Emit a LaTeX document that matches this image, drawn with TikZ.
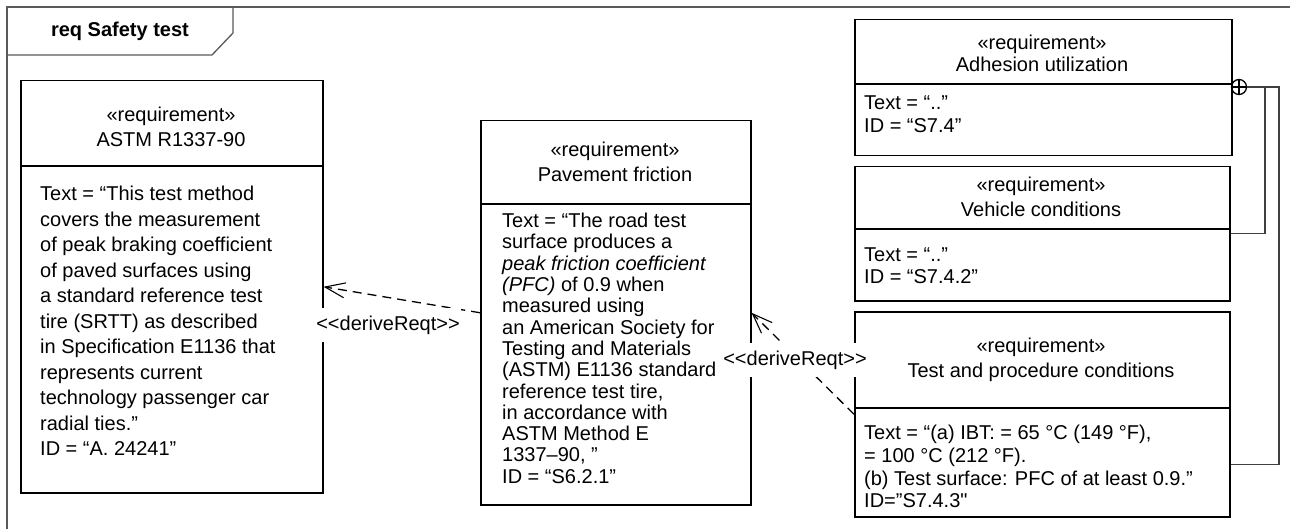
\documentclass[tikz,border=0pt]{standalone}
\usepackage{fontspec}
\setmainfont{Liberation Sans}[Ligatures=TeXOff]
\usetikzlibrary{arrows.meta}

\tikzset{
  reqbox/.style={draw, line width=1.5pt, inner sep=0pt, anchor=north west},
  reqhead/.style={align=center, inner sep=0pt},
  reqbody/.style={align=left, inner sep=0pt, anchor=north west},
  frameline/.style={draw=black!65, line width=1.3pt},
  derive/.style={line width=1.3pt, dash pattern=on 9pt off 6pt,
    -{Straight Barb[length=20pt, width=15pt, line width=1.1pt]}},
  derivetag/.style={fill=white, inner xsep=1pt, inner ysep=8pt},
  tree/.style={draw=black!75, line width=1.3pt}
}

\begin{document}
\begin{tikzpicture}[x=1pt, y=-1pt, font=\fontsize{20}{25}\selectfont]
\useasboundingbox (0,0) rectangle (1290,529);

% Diagram frame
\draw[frameline] (7,529) -- (7,7) -- (1290,7);
\draw[frameline] (7,55) -- (212,55) -- (233,33) -- (233,7);
\node[font=\bfseries\fontsize{20}{24}\selectfont] (title) at (120,31) {req Safety test};

% ASTM R1337-90
\node[reqbox, minimum width=302pt, minimum height=412pt] (astm) at (20,80) {};
\draw[line width=1.5pt] ([yshift=-86pt]astm.north west) -- ([yshift=-86pt]astm.north east);
\node[reqhead] (astm-h) at (171,127) {«requirement»\\ASTM R1337-90};
\node[reqbody, font=\fontsize{20}{25.5}\selectfont] (astm-b) at (40,186) {Text = “This test method\\
covers the measurement\\
of peak braking coefficient\\
of paved surfaces using\\
a standard reference test\\
tire (SRTT) as described\\
in Specification E1136 that\\
represents current\\
technology passenger car\\
radial ties.”\\
ID = “A. 24241”};

% Pavement friction
\node[reqbox, minimum width=270pt, minimum height=384pt] (pave) at (480,120) {};
\draw[line width=1.5pt] ([yshift=-84pt]pave.north west) -- ([yshift=-84pt]pave.north east);
\node[reqhead] (pave-h) at (615,162) {«requirement»\\Pavement friction};
\node[reqbody, font=\fontsize{20}{21.3}\selectfont] (pave-b) at (502,213) {Text = “The road test\\
surface produces a\\
\textit{peak friction coefficient}\\
\textit{(PFC)} of 0.9 when\\
measured using\\
an American Society for\\
Testing and Materials\\
(ASTM) E1136 standard\\
reference test tire,\\
in accordance with\\
ASTM Method E\\
1337–90, ”\\
ID = “S6.2.1”};

% Adhesion utilization
\node[reqbox, minimum width=377pt, minimum height=136pt] (adhes) at (854,19) {};
\draw[line width=1.5pt] ([yshift=-65pt]adhes.north west) -- ([yshift=-65pt]adhes.north east);
\node[reqhead, font=\fontsize{20}{22}\selectfont] (adhes-h) at (1042,53) {«requirement»\\Adhesion utilization};
\node[reqbody, font=\fontsize{20}{23}\selectfont] (adhes-b) at (864,96) {Text = “..”\\ID = “S7.4”};

% Vehicle conditions
\node[reqbox, minimum width=375pt, minimum height=134pt] (vehicle) at (854,166) {};
\draw[line width=1.5pt] ([yshift=-63pt]vehicle.north west) -- ([yshift=-63pt]vehicle.north east);
\node[reqhead] (vehicle-h) at (1041,197) {«requirement»\\Vehicle conditions};
\node[reqbody, font=\fontsize{20}{22}\selectfont] (vehicle-b) at (864,248) {Text = “..”\\ID = “S7.4.2”};

% Test and procedure conditions
\node[reqbox, minimum width=375pt, minimum height=205pt] (testproc) at (854,311) {};
\draw[line width=1.5pt] ([yshift=-97pt]testproc.north west) -- ([yshift=-97pt]testproc.north east);
\node[reqhead] (testproc-h) at (1041,360) {«requirement»\\Test and procedure conditions};
\node[reqbody, font=\fontsize{20}{22.7}\selectfont] (testproc-b) at (864,425) {Text = “(a) IBT: = 65 °C (149 °F),\\
= 100 °C (212 °F).\\
(b) Test surface: PFC of at least 0.9.”\\
ID=”S7.4.3"};

% Containment
\node[draw, circle, line width=1.3pt, minimum size=15pt, inner sep=0pt] (own) at (1239,87) {};
\draw[line width=1.3pt] (own.north) -- (own.south) (own.west) -- (own.east);
\coordinate (fork) at (1265,87);
\coordinate (trunk) at (1279,87);
\draw[tree] (own.east) -- (trunk) |- ([yshift=-50pt]testproc.east);
\draw[tree] (fork) |- (vehicle.east);

% deriveReqt dependencies
\draw[derive] (pave.west) -- (astm.east);
\draw[derive] (testproc.west) -- (pave.east);
\node[derivetag] (derive1) at (388,325) {<<deriveReqt>>};
\node[derivetag] (derive2) at (795,360) {<<deriveReqt>>};

\end{tikzpicture}
\end{document}
